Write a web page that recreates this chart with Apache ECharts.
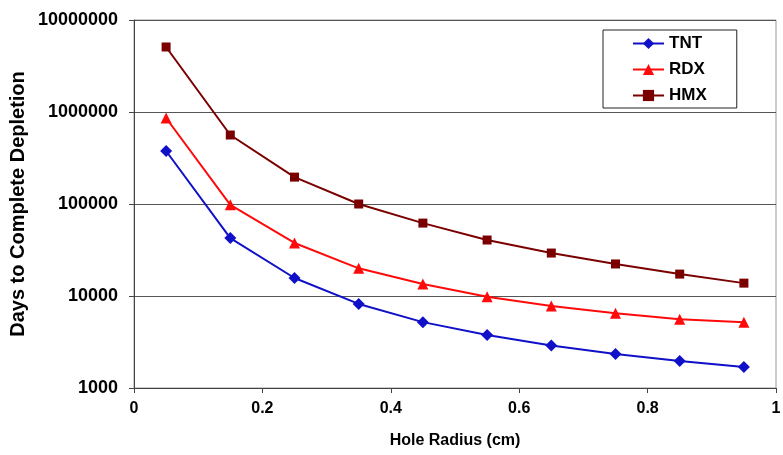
<!DOCTYPE html>
<html><head><meta charset="utf-8">
<script src="https://cdn.jsdelivr.net/npm/echarts@6/dist/echarts.min.js"></script>
<style>html,body{margin:0;padding:0;background:#fff}#c{width:783px;height:455px}</style>
</head><body><div id="c"></div>
<script>
const radius = [0.05, 0.15, 0.25, 0.35, 0.45, 0.55, 0.65, 0.75, 0.85, 0.95];
const tnt = [377000, 42600, 15700, 8200, 5200, 3770, 2900, 2340, 1960, 1690];
const rdx = [861000, 98000, 37700, 20000, 13500, 9800, 7800, 6500, 5600, 5200];
const hmx = [5090000, 562000, 196000, 100000, 62000, 40600, 29300, 22300, 17300, 13800];
const seriesNames = ['TNT', 'RDX', 'HMX'];

const pair = (vals) => radius.map((x, i) => [x, vals[i]]);
const font = 'Arial, "Liberation Sans", sans-serif';
const chart = echarts.init(document.getElementById('c'));
chart.setOption({
  animation: false,
  backgroundColor: '#fff',
  grid: { left: 134, right: 7, top: 20, bottom: 67, show: true, borderColor: '#999', borderWidth: 1,
    containLabel: false, outerBoundsMode: 'none' },
  legend: {
    orient: 'vertical', left: 603, top: 30,
    padding: [5, 30, 4, 29],
    borderColor: '#222', borderWidth: 1, backgroundColor: '#fff', borderRadius: 0,
    itemWidth: 31, itemHeight: 14, itemGap: 9,
    textStyle: { fontFamily: font, fontWeight: 'bold', fontSize: 17, color: '#000', lineHeight: 17 },
    data: seriesNames
  },
  xAxis: {
    type: 'value', min: 0, max: 1, interval: 0.2,
    name: 'Hole Radius (cm)', nameLocation: 'middle', nameGap: 45, nameMoveOverlap: false,
    nameTextStyle: { fontFamily: font, fontWeight: 'bold', fontSize: 16, color: '#000' },
    axisLine: { lineStyle: { color: '#444', width: 1 } },
    axisTick: { show: true, inside: false, length: 5, lineStyle: { color: '#444' } },
    splitLine: { show: false },
    axisLabel: { fontFamily: font, fontWeight: 'bold', fontSize: 16, color: '#000', margin: 13,
      formatter: v => String(+v.toFixed(1)) }
  },
  yAxis: {
    type: 'log', logBase: 10, min: 1000, max: 10000000,
    name: 'Days to Complete Depletion', nameLocation: 'middle', nameGap: 106, nameMoveOverlap: false,
    nameTextStyle: { fontFamily: font, fontWeight: 'bold', fontSize: 20, color: '#000' },
    axisLine: { show: true, lineStyle: { color: '#444', width: 1 } },
    axisTick: { show: true, inside: false, length: 5, lineStyle: { color: '#444' } },
    splitLine: { show: true, lineStyle: { color: '#555', width: 1 } },
    minorSplitLine: { show: false },
    axisLabel: { fontFamily: font, fontWeight: 'bold', fontSize: 18, color: '#000', margin: 16,
      formatter: v => String(Math.round(v)) }
  },
  series: [
    { name: 'TNT', type: 'line', data: pair(tnt), symbol: 'diamond', symbolSize: 12,
      itemStyle: { color: '#1010c8' }, lineStyle: { color: '#1010c8', width: 2 } },
    { name: 'RDX', type: 'line', data: pair(rdx), symbol: 'triangle', symbolSize: 11,
      itemStyle: { color: '#ff0a0a' }, lineStyle: { color: '#ff0a0a', width: 2 } },
    { name: 'HMX', type: 'line', data: pair(hmx), symbol: 'rect', symbolSize: 9,
      itemStyle: { color: '#7a0000' }, lineStyle: { color: '#7a0000', width: 2 } }
  ]
});
</script></body></html>
